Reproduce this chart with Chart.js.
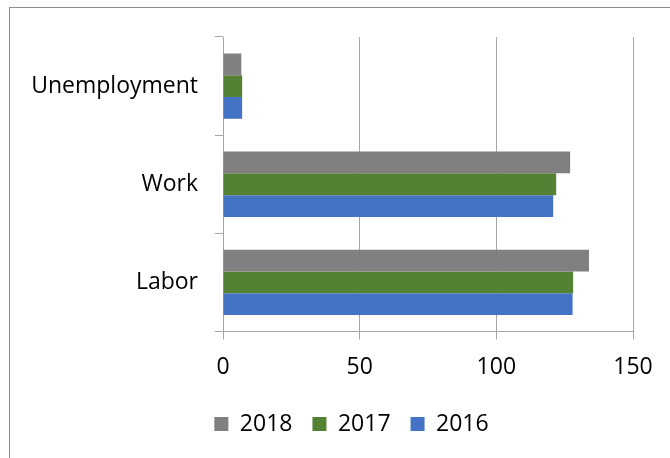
<!DOCTYPE html>
<html>
<head>
<meta charset="utf-8">
<script src="https://cdn.jsdelivr.net/npm/chart.js@4/dist/chart.umd.min.js"></script>
<style>
    body { margin: 0; background: #fff; overflow: hidden; }
    #frame {
        position: absolute; left: 9px; top: 7px;
        width: 700px; height: 500px;
        border: 1px solid #8c8c8c;
    }
    #chart { position: absolute; left: 0; top: 0; }
</style>
</head>
<body>
<div id="frame"></div>
<canvas id="chart" width="670" height="458"></canvas>
<script>
    const categories = ['Unemployment', 'Work', 'Labor'];
    const values2018 = [6.7, 127.0, 133.9];
    const values2017 = [7.0, 121.9, 128.1];
    const values2016 = [7.0, 120.8, 127.9];
    const xTicks = [0, 50, 100, 150];

    const FONT = "'Open Sans', 'Liberation Sans', sans-serif";
    const GRID = '#a6a6a6';

    // legend sits a bit right of the page centre in the original
    const shiftLegend = {
        id: 'shiftLegend',
        afterLayout(chart) {
            chart.legend.left += 20;
            chart.legend.right += 20;
        }
    };

    new Chart(document.getElementById('chart'), {
        type: 'bar',
        data: {
            labels: categories,
            datasets: [
                { label: '2018', data: values2018, backgroundColor: '#808080' },
                { label: '2017', data: values2017, backgroundColor: '#548235' },
                { label: '2016', data: values2016, backgroundColor: '#4472c4' }
            ]
        },
        options: {
            indexAxis: 'y',
            responsive: false,
            animation: false,
            categoryPercentage: 0.666,
            barPercentage: 1,
            layout: {
                padding: { top: 37, left: 30, right: 37, bottom: 12.5 }
            },
            scales: {
                x: {
                    min: 0,
                    max: 150,
                    afterBuildTicks: scale => {
                        scale.ticks = xTicks.map(v => ({ value: v }));
                    },
                    afterFit: scale => { scale.height = 61; },
                    grid: { color: GRID, lineWidth: 1, tickLength: 8 },
                    border: { color: GRID },
                    ticks: {
                        color: '#000',
                        padding: 14,
                        font: { family: FONT, size: 23 }
                    }
                },
                y: {
                    afterFit: scale => { scale.width = 193; },
                    grid: {
                        drawOnChartArea: false,
                        color: GRID,
                        tickLength: 8,
                        offset: true
                    },
                    border: { color: GRID },
                    ticks: {
                        color: '#000',
                        padding: 17,
                        font: { family: FONT, size: 23 }
                    }
                }
            },
            plugins: {
                legend: {
                    position: 'bottom',
                    labels: {
                        color: '#000',
                        boxWidth: 14,
                        boxHeight: 14,
                        padding: 20,
                        font: { family: FONT, size: 23 }
                    }
                },
                tooltip: { enabled: false }
            }
        },
        plugins: [shiftLegend]
    });
</script>
</body>
</html>
